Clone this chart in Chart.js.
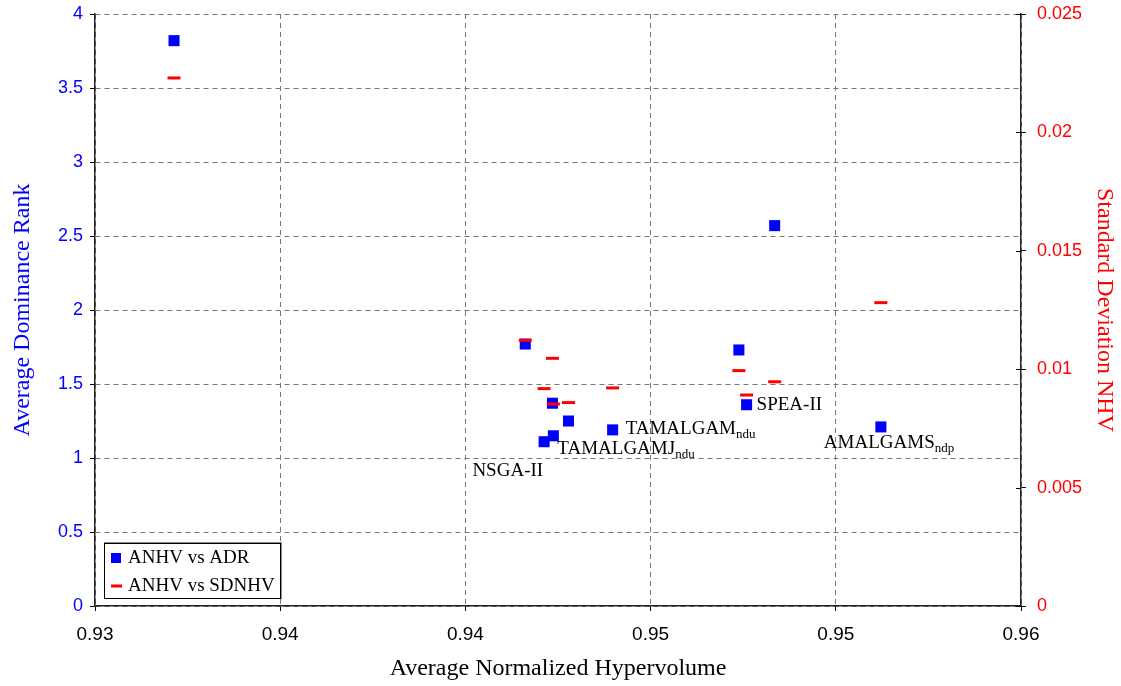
<!DOCTYPE html>
<html>
<head>
<meta charset="utf-8">
<script src="https://cdn.jsdelivr.net/npm/chart.js@4"></script>
<style>
  body { margin: 0; background: #fff; }
  #wrap { width: 1121px; height: 686px; }
</style>
</head>
<body>
<div id="wrap"><canvas id="myChart" width="1121" height="686"></canvas></div>
<script>
// Datos
const hypervolume = [0.93256, 0.94394, 0.94482, 0.94485, 0.94455, 0.94534, 0.94677, 0.95086, 0.95111, 0.95202, 0.95546];
const dominanceRank = [3.82, 1.77, 1.37, 1.15, 1.11, 1.25, 1.19, 1.73, 1.36, 2.57, 1.21];
const sdHypervolume = [0.0223, 0.01122, 0.01046, 0.00853, 0.00918, 0.00859, 0.00921, 0.00994, 0.00891, 0.00947, 0.01281];

// Nombres de algoritmos (texto principal + subindice)
const algorithmNames = ["", "", "", "TAMALGAMJ", "NSGA-II", "", "TAMALGAM", "", "SPEA-II", "", "AMALGAMS"];
const algorithmSubs = ["", "", "", "ndu", "", "", "ndu", "", "", "", "ndp"];

// Ticks
const xTickValues = [0.93, 0.936, 0.942, 0.948, 0.954, 0.96];
const xTickLabels = ["0.93", "0.94", "0.94", "0.95", "0.95", "0.96"];
const yTickLabels = ["0", "0.5", "1", "1.5", "2", "2.5", "3", "3.5", "4"];
const y2TickLabels = ["0", "0.005", "0.01", "0.015", "0.02", "0.025"];

const serif = "'Liberation Serif', 'Times New Roman', serif";
const sans = "'Liberation Sans', Arial, sans-serif";

// donde va cada etiqueta respecto a su punto (px)
const labelPlacement = {
    3: { dx: 4, dy: 13, align: "left" },
    4: { dx: -1, dy: 29, align: "right" },
    6: { dx: 13, dy: -1, align: "left" },
    8: { dx: 10, dy: 0, align: "left" },
    10: { dx: -57, dy: 16, align: "left" },
};

// Etiquetas de los puntos
const pointLabels = {
    id: "pointLabels",
    afterDatasetsDraw(chart) {
        const { ctx, scales } = chart;
        ctx.save();
        ctx.fillStyle = "#000";
        ctx.textBaseline = "middle";
        algorithmNames.forEach((name, i) => {
            if (!name) return;
            const p = labelPlacement[i];
            const px = scales.x.getPixelForValue(hypervolume[i]);
            const py = scales.y.getPixelForValue(dominanceRank[i]);
            ctx.font = "19px " + serif;
            const w = ctx.measureText(name).width;
            ctx.font = "13px " + serif;
            const ws = ctx.measureText(algorithmSubs[i]).width;
            let x = px + p.dx;
            if (p.align === "right") x -= w + ws;
            const y = py + p.dy;
            ctx.font = "19px " + serif;
            ctx.textAlign = "left";
            ctx.fillText(name, x, y);
            if (algorithmSubs[i]) {
                ctx.font = "13px " + serif;
                ctx.fillText(algorithmSubs[i], x + w, y + 6);
            }
        });
        ctx.restore();
    },
};

// Marcas interiores del eje derecho
const innerTicks = {
    id: "innerTicks",
    afterDraw(chart) {
        const { ctx } = chart;
        const s = chart.scales.y2;
        ctx.save();
        ctx.strokeStyle = "#000";
        ctx.lineWidth = 1;
        s.ticks.forEach((t) => {
            const y = Math.round(s.getPixelForValue(t.value)) + 0.5;
            ctx.beginPath();
            ctx.moveTo(s.left - 5, y);
            ctx.lineTo(s.left, y);
            ctx.stroke();
        });
        ctx.restore();
    },
};

// Leyenda dentro del area
const boxLegend = {
    id: "boxLegend",
    afterDraw(chart) {
        const { ctx, chartArea } = chart;
        const x = chartArea.left + 9;
        const y = chartArea.bottom - 63;
        const w = 177;
        const h = 56;
        ctx.save();
        ctx.fillStyle = "#fff";
        ctx.fillRect(x, y, w, h);
        ctx.strokeStyle = "#888";
        ctx.lineWidth = 2;
        ctx.beginPath();
        ctx.moveTo(x, y);
        ctx.lineTo(x + w, y);
        ctx.lineTo(x + w, y + h);
        ctx.stroke();
        ctx.strokeStyle = "#000";
        ctx.lineWidth = 1;
        ctx.strokeRect(x + 0.5, y + 0.5, w - 1, h - 1);
        ctx.font = "19px " + serif;
        ctx.textBaseline = "middle";
        chart.data.datasets.forEach((ds, i) => {
            const cy = y + 15 + i * 28;
            if (ds.pointStyle === "rect") {
                ctx.fillStyle = ds.backgroundColor;
                ctx.fillRect(x + 7, cy - 5, 10, 10);
            } else {
                ctx.fillStyle = ds.borderColor;
                ctx.fillRect(x + 7, cy - 1.5, 11, 3);
            }
            ctx.fillStyle = "#000";
            ctx.fillText(ds.label, x + 24, cy);
        });
        ctx.restore();
    },
};

const gridDash = [5, 4];

const ctx = document.getElementById("myChart");
new Chart(ctx, {
    type: "scatter",
    data: {
        datasets: [
            {
                label: "ANHV vs ADR",
                data: hypervolume.map((v, i) => ({ x: v, y: dominanceRank[i] })),
                yAxisID: "y",
                order: 1,
                pointStyle: "rect",
                radius: 7.8,
                backgroundColor: "#0000ff",
                borderColor: "#0000ff",
                borderWidth: 0,
            },
            {
                label: "ANHV vs SDNHV",
                data: hypervolume.map((v, i) => ({ x: v, y: sdHypervolume[i] })),
                yAxisID: "y2",
                order: 0,
                pointStyle: "line",
                radius: 6.5,
                borderColor: "#ff0000",
                backgroundColor: "#ff0000",
                borderWidth: 3,
            },
        ],
    },
    options: {
        responsive: false,
        animation: false,
        events: [],
        layout: { padding: { top: 14, left: 0, right: 0, bottom: 0 } },
        plugins: {
            legend: { display: false },
            tooltip: { enabled: false },
        },
        scales: {
            x: {
                type: "linear",
                min: 0.93,
                max: 0.96,
                afterBuildTicks: (scale) => {
                    scale.ticks = xTickValues.map((v) => ({ value: v }));
                },
                afterFit: (scale) => {
                    scale.height = 80;
                    scale.paddingLeft = 0;
                    scale.paddingRight = 0;
                },
                ticks: {
                    color: "#000",
                    font: { family: sans, size: 19 },
                    padding: 12,
                    maxRotation: 0,
                    callback: (value, index) => xTickLabels[index],
                },
                grid: {
                    color: "#777",
                    lineWidth: 1,
                    tickLength: 5,
                    tickColor: "#000",
                    tickBorderDash: [],
                },
                border: { display: true, color: "#222", width: 1.5, dash: gridDash },
                title: {
                    display: true,
                    text: "Average Normalized Hypervolume",
                    color: "#000",
                    font: { family: serif, size: 24 },
                    padding: { top: 0, bottom: 3 },
                },
            },
            y: {
                position: "left",
                min: 0,
                max: 4,
                afterBuildTicks: (scale) => {
                    scale.ticks = yTickLabels.map((t) => ({ value: parseFloat(t) }));
                },
                afterFit: (scale) => {
                    scale.width = 95;
                    scale.paddingTop = 0;
                    scale.paddingBottom = 0;
                },
                ticks: {
                    color: "#0000ff",
                    font: { family: sans, size: 18 },
                    padding: 7,
                    callback: (value, index) => yTickLabels[index],
                },
                grid: {
                    color: "#777",
                    lineWidth: 1,
                    tickLength: 5,
                    tickColor: "#000",
                    tickBorderDash: [],
                },
                border: { display: true, color: "#222", width: 1.5, dash: gridDash },
                title: {
                    display: true,
                    text: "Average Dominance Rank",
                    color: "#0000ff",
                    font: { family: serif, size: 24 },
                    padding: { top: 8, bottom: 0 },
                },
            },
            y2: {
                position: "right",
                min: 0,
                max: 0.025,
                afterBuildTicks: (scale) => {
                    scale.ticks = y2TickLabels.map((t) => ({ value: parseFloat(t) }));
                },
                afterFit: (scale) => {
                    scale.width = 100;
                    scale.paddingTop = 0;
                    scale.paddingBottom = 0;
                },
                ticks: {
                    color: "#ff0000",
                    font: { family: sans, size: 18 },
                    padding: 11,
                    callback: (value, index) => y2TickLabels[index],
                },
                grid: {
                    drawOnChartArea: false,
                    tickLength: 5,
                    tickColor: "#000",
                    tickBorderDash: [],
                },
                border: { display: true, color: "#222", width: 1.5 },
                title: {
                    display: true,
                    text: "Standard Deviation NHV",
                    color: "#ff0000",
                    font: { family: serif, size: 24 },
                    padding: { top: 2, bottom: 0 },
                },
            },
        },
    },
    plugins: [pointLabels, innerTicks, boxLegend],
});
</script>
</body>
</html>
